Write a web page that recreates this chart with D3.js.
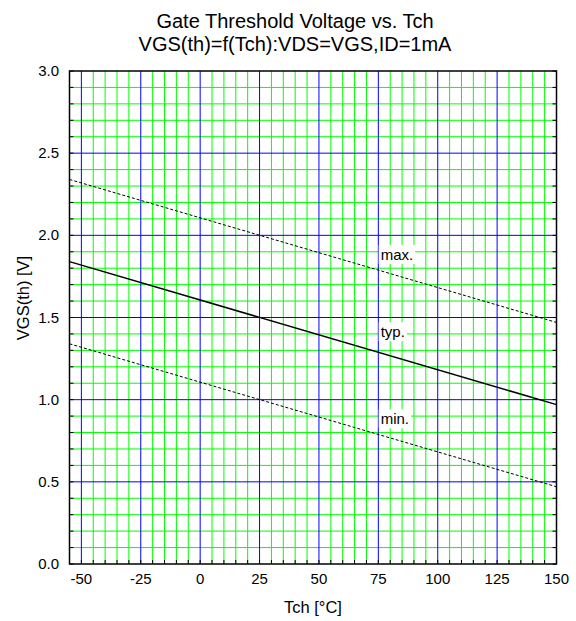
<!DOCTYPE html>
<html>
<head>
<meta charset="utf-8">
<script src="https://d3js.org/d3.v7.min.js"></script>
<style>
* { margin: 0; padding: 0; }
body { background: #fff; }
svg { display: block; font-family: "Liberation Sans", Arial, sans-serif; }
</style>
</head>
<body>
<svg width="576" height="621"></svg>
<script>
// channel temperature [°C] at the two ends of each curve
const temps = [-55, 150];
// threshold voltage [V]
const maxV = [2.34, 1.47];
const typV = [1.84, 0.97];
const minV = [1.34, 0.47];

const curveNames = ["max.", "typ.", "min."];
const labelTemp = [76, 76, 76];
const labelVolt = [1.85, 1.38, 0.85];

const xTicks = [-50, -25, 0, 25, 50, 75, 100, 125, 150];
const yTicks = [0, 0.5, 1, 1.5, 2, 2.5, 3];

const svg = d3.select("svg");
const L = 69.5, R = 556.5, T = 71, B = 564;

const x = d3.scaleLinear().domain([-55, 150]).range([L, R]);
const y = d3.scaleLinear().domain([0, 3]).range([B, T]);

// title
svg.append("text").attr("x", 295).attr("y", 28).attr("text-anchor", "middle")
    .attr("font-size", 20).text("Gate Threshold Voltage vs. Tch");
svg.append("text").attr("x", 295).attr("y", 51).attr("text-anchor", "middle")
    .attr("font-size", 20).text("VGS(th)=f(Tch):VDS=VGS,ID=1mA");

let g = svg.append("g");

// minor grid (green)
const xMinor = d3.range(-55, 151, 5).filter(v => v % 25 != 0);
const yMinor = d3.range(1, 30).map(v => v / 10).filter(v => Math.round(v * 10) % 5 != 0);
g.selectAll(".xm").data(xMinor).enter().append("line")
    .attr("x1", d => x(d)).attr("x2", d => x(d)).attr("y1", T).attr("y2", B)
    .attr("stroke", "#00ff00").attr("stroke-width", 1);
g.selectAll(".ym").data(yMinor).enter().append("line")
    .attr("y1", d => y(d)).attr("y2", d => y(d)).attr("x1", L).attr("x2", R)
    .attr("stroke", "#00ff00").attr("stroke-width", 1);

// major grid (blue)
g.selectAll(".xM").data(xTicks.filter(v => v > -55 && v < 150)).enter().append("line")
    .attr("x1", d => x(d)).attr("x2", d => x(d)).attr("y1", T).attr("y2", B)
    .attr("stroke", "#0000ff").attr("stroke-width", 1);
g.selectAll(".yM").data(yTicks.filter(v => v > 0 && v < 3)).enter().append("line")
    .attr("y1", d => y(d)).attr("y2", d => y(d)).attr("x1", L).attr("x2", R)
    .attr("stroke", "#0000ff").attr("stroke-width", 1);

// small inward ticks
const xt = d3.range(-55, 151, 5);
const yt = d3.range(0, 31).map(v => v / 10);
g.selectAll(".xt").data(xt).enter().append("line")
    .attr("x1", d => x(d)).attr("x2", d => x(d)).attr("y1", B).attr("y2", B - 4)
    .attr("stroke", "#000");
g.selectAll(".ytl").data(yt).enter().append("line")
    .attr("y1", d => y(d)).attr("y2", d => y(d)).attr("x1", L).attr("x2", L + 4)
    .attr("stroke", "#000");
g.selectAll(".ytr").data(yt).enter().append("line")
    .attr("y1", d => y(d)).attr("y2", d => y(d)).attr("x1", R).attr("x2", R - 4)
    .attr("stroke", "#000");

// curves
const line = d3.line().x(d => x(d[0])).y(d => y(d[1]));
const series = [
    {v: maxV, dash: "3,2", w: 1},
    {v: typV, dash: null, w: 1.5},
    {v: minV, dash: "3,2", w: 1}
];
series.forEach(s => {
    g.append("path")
        .datum(temps.map((t, i) => [t, s.v[i]]))
        .attr("d", line)
        .attr("fill", "none")
        .attr("stroke", "#000")
        .attr("stroke-width", s.w)
        .attr("stroke-dasharray", s.dash);
});

// curve labels on white boxes
curveNames.forEach((name, i) => {
    let lx = x(labelTemp[i]), ly = y(labelVolt[i]);
    let t = g.append("text").attr("x", lx).attr("y", ly)
        .attr("font-size", 15).text(name);
    let bb = t.node().getBBox();
    g.insert("rect", () => t.node())
        .attr("x", bb.x - 2).attr("y", bb.y - 1)
        .attr("width", bb.width + 4).attr("height", bb.height + 2)
        .attr("fill", "#fff");
});

// frame
g.append("rect").attr("x", L).attr("y", T).attr("width", R - L).attr("height", B - T)
    .attr("fill", "none").attr("stroke", "#000").attr("stroke-width", 1.5);

// tick labels
svg.selectAll(".xl").data(xTicks).enter().append("text")
    .attr("x", d => x(d)).attr("y", 584).attr("text-anchor", "middle")
    .attr("font-size", 15).text(d => d);
svg.selectAll(".yl").data(yTicks).enter().append("text")
    .attr("x", 59).attr("y", d => y(d) + 5).attr("text-anchor", "end")
    .attr("font-size", 15).text(d => d3.format(".1f")(d));

// axis titles
svg.append("text").attr("x", 313).attr("y", 613).attr("text-anchor", "middle")
    .attr("font-size", 16.5).text("Tch [°C]");
svg.append("text").attr("transform", "translate(29,298) rotate(-90)")
    .attr("text-anchor", "middle").attr("font-size", 16.5).text("VGS(th) [V]");
</script>
</body>
</html>
